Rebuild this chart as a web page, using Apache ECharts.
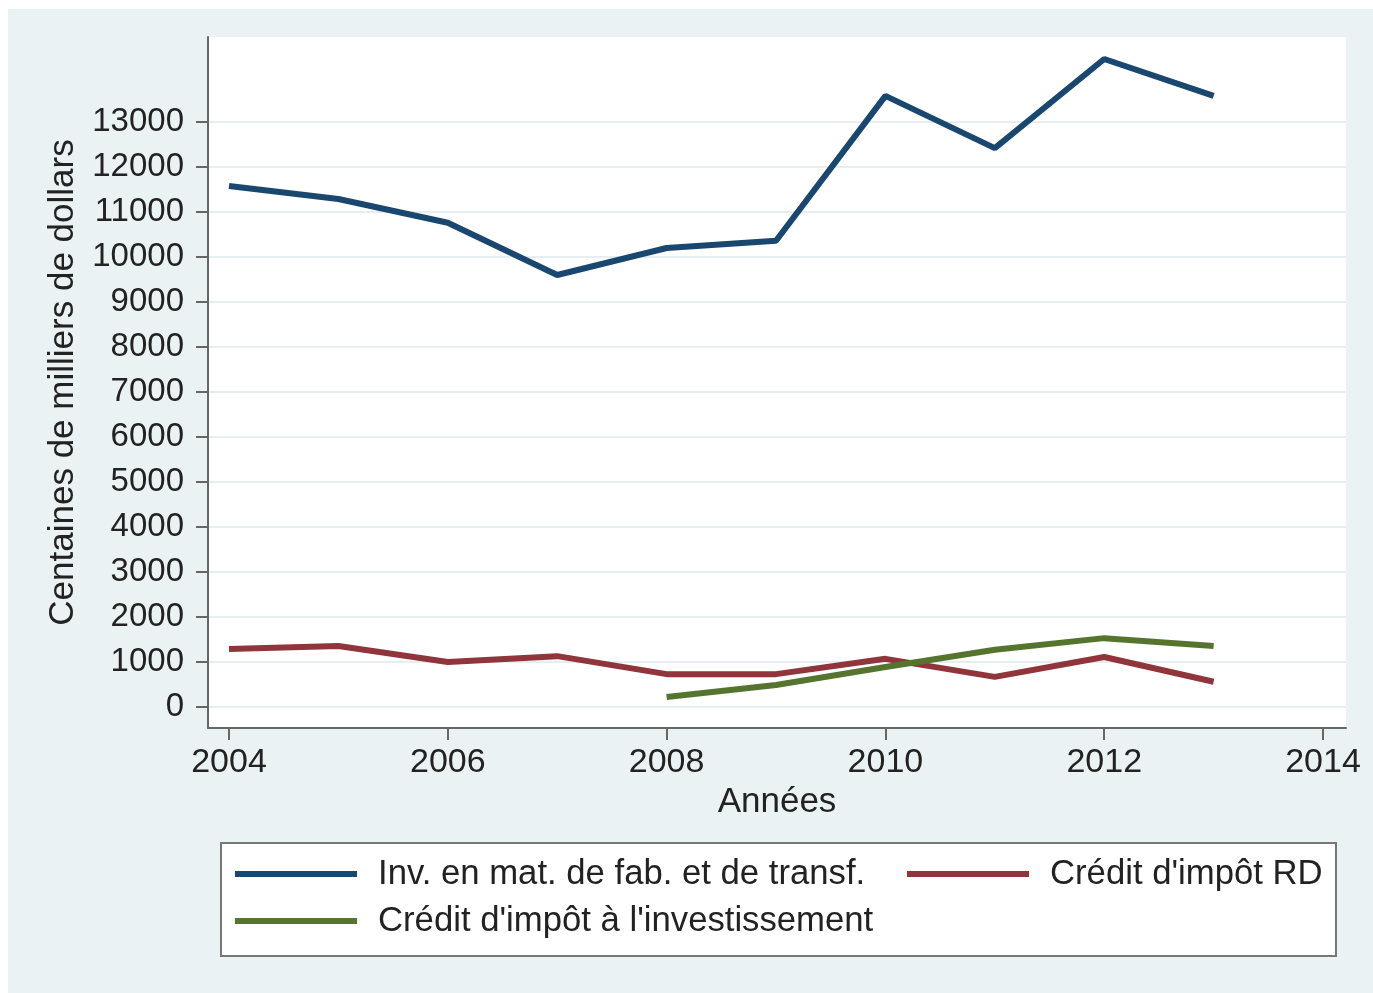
<!DOCTYPE html>
<html>
<head>
<meta charset="utf-8">
<script src="https://cdn.jsdelivr.net/npm/echarts@6/dist/echarts.min.js"></script>
<style>
html,body{margin:0;padding:0;background:#ffffff;}
#chart{position:absolute;left:8px;top:9px;width:1365px;height:984px;background:#eaf2f3;}
</style>
</head>
<body>
<div id="chart"></div>
<script>
const years = [2004, 2005, 2006, 2007, 2008, 2009, 2010, 2011, 2012, 2013];
const invFab = [11580, 11290, 10760, 9600, 10200, 10360, 13580, 12420, 14400, 13580];
const creditRD = [1290, 1355, 1000, 1130, 730, 730, 1070, 670, 1110, 560];
const creditInvYears = [2008, 2009, 2010, 2011, 2012, 2013];
const creditInv = [220, 490, 890, 1270, 1530, 1355];
const yTicks = [0, 1000, 2000, 3000, 4000, 5000, 6000, 7000, 8000, 9000, 10000, 11000, 12000, 13000];
const xTicks = [2004, 2006, 2008, 2010, 2012, 2014];
const seriesNames = ["Inv. en mat. de fab. et de transf.", "Crédit d'impôt RD", "Crédit d'impôt à l'investissement"];
const colors = ['#1a476f', '#90353b', '#55752f'];

const pairs = (xs, ys) => xs.map((x, i) => [x, ys[i]]);
const font = '"Liberation Sans", Arial, sans-serif';
const txt = '#222222';
const axisCol = '#666666';

const chart = echarts.init(document.getElementById('chart'), null, {renderer: 'canvas'});

function legendAt(name, left, top) {
  return {
    data: [name], left: left, top: top, padding: 0, z: 5,
    selectedMode: false, icon: 'rect', itemWidth: 122, itemHeight: 6,
    textStyle: {fontFamily: font, fontSize: 34.7, color: txt, lineHeight: 38, padding: [0, 0, 0, 16]}
  };
}

chart.setOption({
  animation: false,
  textStyle: {fontFamily: font},
  grid: {left: 200, top: 28, right: 27, bottom: 265, show: true, backgroundColor: '#ffffff', borderWidth: 0},
  xAxis: {
    type: 'value', min: 2003.808, max: 2014.21,
    name: 'Années', nameLocation: 'middle', nameGap: 57,
    nameTextStyle: {fontFamily: font, fontSize: 35, color: txt},
    axisLine: {show: true, onZero: false, lineStyle: {color: axisCol, width: 2}},
    axisTick: {show: true, length: 12, customValues: xTicks, lineStyle: {color: axisCol, width: 2}},
    axisLabel: {customValues: xTicks, fontFamily: font, fontSize: 34, color: txt, margin: 18, formatter: v => String(v)},
    splitLine: {show: false}
  },
  yAxis: {
    type: 'value', min: -467, max: 14889,
    name: 'Centaines de milliers de dollars', nameLocation: 'middle', nameGap: 127,
    nameTextStyle: {fontFamily: font, fontSize: 35, color: txt},
    axisLine: {show: true, onZero: false, lineStyle: {color: axisCol, width: 2}},
    axisTick: {show: true, length: 12, customValues: yTicks, lineStyle: {color: axisCol, width: 2}},
    axisLabel: {customValues: yTicks, fontFamily: font, fontSize: 33, color: txt, margin: 24, formatter: v => String(v)},
    splitLine: {show: true, lineStyle: {color: '#e6eef0', width: 2}}
  },
  legend: [
    legendAt(seriesNames[0], 227, 846),
    legendAt(seriesNames[1], 899, 846),
    legendAt(seriesNames[2], 227, 893)
  ],
  graphic: [{
    type: 'rect', z: 1, left: 212, top: 833,
    shape: {width: 1115, height: 113},
    style: {fill: '#ffffff', stroke: '#777777', lineWidth: 2}
  }],
  series: [
    {name: seriesNames[0], type: 'line', data: pairs(years, invFab), showSymbol: false, color: colors[0], lineStyle: {width: 6, color: colors[0]}},
    {name: seriesNames[1], type: 'line', data: pairs(years, creditRD), showSymbol: false, color: colors[1], lineStyle: {width: 6, color: colors[1]}},
    {name: seriesNames[2], type: 'line', data: pairs(creditInvYears, creditInv), showSymbol: false, color: colors[2], lineStyle: {width: 6, color: colors[2]}}
  ]
});
</script>
</body>
</html>
